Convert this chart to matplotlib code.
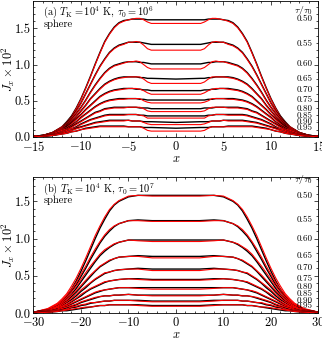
"""Two panels: J_x profiles at several tau/tau0 inside a sphere (black: analytic, red: MC)."""
import numpy as np
import matplotlib
matplotlib.use("Agg")
import matplotlib.pyplot as plt
from matplotlib.ticker import FormatStrFormatter

plt.rcParams.update({
    "font.family": "serif",
    "font.serif": ["cmr10"],
    "mathtext.fontset": "cm",
    "axes.formatter.use_mathtext": True,
    "font.size": 9,
    "xtick.direction": "in", "ytick.direction": "in",
    "xtick.top": True, "ytick.right": True,
    "xtick.minor.visible": True, "ytick.minor.visible": True,
    "xtick.major.size": 3.0, "ytick.major.size": 3.0,
    "xtick.minor.size": 1.5, "ytick.minor.size": 1.5,
    "xtick.major.width": 0.5, "ytick.major.width": 0.5,
    "xtick.minor.width": 0.5, "ytick.minor.width": 0.5,
    "axes.linewidth": 0.6,
})

# tau/tau0 of each curve (top to bottom)
ratios = ["0.50", "0.55", "0.60", "0.65", "0.70", "0.75", "0.80", "0.85", "0.90", "0.95"]

# label heights on the right (J_x x 10^2)
label_y_a = [1.628, 1.29, 1.005, 0.798, 0.646, 0.508, 0.393, 0.29, 0.203, 0.13]
label_y_b = [1.575, 1.247, 0.997, 0.766, 0.61, 0.463, 0.356, 0.254, 0.165, 0.093]

# panel (a), tau0 = 1e6: half profiles (x >= 0), values are J_x x 10^4
x_a = [0, 2.6, 3.0, 3.4, 3.8, 4.2, 4.6, 5, 5.5, 6, 6.5, 7, 7.5, 8, 8.5, 9, 9.5, 10, 10.5, 11, 11.5, 12, 13, 14, 15]
black_a = [
    [162, 162, 162, 163, 163, 163, 163, 162, 161, 158, 152, 143, 132, 117, 101, 84, 68, 53, 40, 29, 21, 14, 6, 2, 1],
    [128, 128, 129, 130, 131, 131, 131, 131, 129, 127, 123, 117, 108, 98, 86, 73, 60, 47, 36, 27, 19, 13, 6, 2, 1],
    [101, 101, 102, 103, 103, 104, 104, 104, 103, 101, 99, 95, 89, 81, 72, 62, 51, 41, 32, 24, 17, 12, 5, 2, 1],
    [80, 81, 81, 82, 82, 83, 83, 83, 83, 82, 80, 77, 73, 67, 60, 53, 44, 36, 28, 21, 15, 11, 5, 2, 1],
    [64, 64, 65, 65, 66, 66, 67, 67, 67, 66, 65, 63, 60, 56, 50, 44, 38, 31, 25, 19, 14, 10, 4, 2, 1],
    [51, 51, 51, 52, 52, 53, 53, 53, 53, 53, 52, 51, 49, 46, 42, 37, 32, 27, 21, 16, 12, 9, 4, 1, 0],
    [39, 39, 40, 40, 40, 41, 41, 41, 41, 41, 41, 40, 39, 36, 34, 30, 26, 22, 18, 14, 10, 7, 3, 1, 0],
    [29, 29, 29, 30, 30, 31, 31, 31, 31, 31, 31, 31, 30, 28, 26, 24, 21, 18, 14, 11, 9, 6, 3, 1, 0],
    [20, 21, 21, 21, 22, 22, 22, 23, 23, 23, 23, 23, 22, 21, 20, 18, 16, 14, 12, 9, 7, 5, 2, 1, 0],
    [12, 13, 13, 13, 14, 14, 14, 14, 15, 15, 15, 15, 15, 15, 14, 13, 12, 10, 8, 7, 5, 4, 2, 1, 0],
]
red_a = [
    [157, 157, 159, 162, 164, 164, 163, 162, 160, 157, 151, 142, 131, 116, 100, 83, 67, 52, 39, 28, 20, 14, 6, 2, 1],
    [120, 120, 122, 127, 131, 132, 131, 131, 128, 126, 122, 116, 107, 97, 85, 72, 59, 46, 35, 26, 18, 13, 6, 2, 1],
    [94, 94, 96, 100, 104, 105, 104, 104, 102, 100, 98, 94, 88, 80, 71, 61, 50, 40, 31, 23, 16, 12, 5, 2, 1],
    [74, 74, 76, 80, 83, 83, 83, 83, 82, 81, 79, 76, 72, 66, 59, 52, 43, 35, 27, 20, 14, 11, 5, 2, 1],
    [59, 59, 61, 64, 66, 67, 67, 67, 66, 65, 64, 62, 59, 55, 49, 43, 37, 30, 24, 18, 13, 10, 4, 2, 1],
    [47, 47, 48, 50, 53, 53, 53, 53, 52, 52, 51, 50, 48, 45, 41, 36, 31, 26, 20, 15, 11, 9, 4, 1, 0],
    [35, 35, 36, 39, 41, 41, 41, 41, 40, 40, 40, 39, 38, 35, 33, 29, 25, 21, 17, 13, 10, 7, 3, 1, 0],
    [26, 26, 26, 29, 30, 31, 31, 31, 30, 30, 30, 30, 29, 27, 25, 23, 20, 17, 13, 11, 9, 6, 3, 1, 0],
    [17, 17, 18, 20, 22, 22, 22, 23, 22, 22, 22, 22, 21, 20, 19, 17, 15, 13, 11, 9, 7, 5, 2, 1, 0],
    [8, 8, 9, 12, 14, 14, 14, 14, 14, 14, 14, 14, 14, 14, 13, 12, 11, 10, 8, 7, 5, 4, 2, 1, 0],
]

# panel (b), tau0 = 1e7
x_b = [0, 5, 8, 10, 12, 13, 14, 15, 16, 17, 18, 19, 20, 21, 22, 23, 24, 25, 27, 30]
black_b = [
    [158, 158, 158, 156, 150, 145, 137, 126, 114, 100, 85, 70, 56, 43, 32, 23, 16, 11, 5, 1],
    [124, 124, 125, 124, 120, 116, 110, 103, 94, 83, 72, 60, 49, 38, 29, 21, 15, 10, 4, 1],
    [98, 98, 98, 98, 95, 92, 88, 83, 77, 69, 60, 51, 42, 33, 25, 19, 13, 9, 4, 1],
    [76, 76, 77, 76, 75, 73, 70, 66, 62, 56, 49, 42, 35, 28, 22, 16, 12, 8, 4, 1],
    [59, 59, 60, 59, 58, 57, 55, 53, 49, 45, 40, 34, 29, 23, 18, 14, 10, 7, 3, 1],
    [45, 45, 46, 46, 45, 44, 43, 41, 38, 35, 32, 28, 23, 19, 15, 11, 8, 6, 3, 1],
    [34, 34, 34, 34, 34, 33, 32, 31, 29, 27, 24, 21, 18, 15, 12, 9, 7, 5, 2, 0],
    [24, 24, 24, 25, 24, 24, 23, 23, 22, 20, 18, 16, 14, 11, 9, 7, 5, 4, 2, 0],
    [16, 16, 17, 17, 17, 17, 16, 16, 15, 14, 13, 11, 10, 8, 7, 5, 4, 3, 1, 0],
    [10, 10, 11, 11, 11, 11, 11, 10, 10, 9, 8, 7, 6, 5, 4, 3, 3, 2, 1, 0],
]
red_b = [
    [157, 157, 158, 157, 151, 146, 139, 129, 117, 104, 89, 74, 60, 47, 36, 26, 19, 13, 6, 1],
    [123, 123, 124, 124, 120, 117, 112, 105, 96, 86, 75, 63, 52, 41, 32, 24, 17, 12, 5, 1],
    [96, 96, 97, 98, 95, 93, 89, 85, 79, 71, 63, 54, 45, 36, 28, 21, 15, 11, 5, 1],
    [74, 74, 76, 76, 75, 73, 71, 67, 63, 57, 51, 44, 37, 30, 24, 18, 13, 9, 4, 1],
    [57, 57, 59, 59, 58, 57, 55, 54, 50, 46, 41, 36, 31, 25, 20, 15, 11, 8, 3, 1],
    [44, 44, 45, 46, 45, 44, 43, 42, 39, 36, 33, 29, 25, 20, 16, 12, 9, 7, 3, 1],
    [32, 32, 33, 34, 34, 33, 32, 31, 30, 28, 25, 22, 19, 16, 13, 10, 8, 5, 2, 0],
    [23, 23, 24, 25, 24, 24, 23, 23, 22, 21, 19, 17, 15, 12, 10, 8, 6, 4, 2, 0],
    [15, 15, 16, 17, 17, 17, 16, 16, 15, 14, 14, 12, 11, 9, 8, 5, 4, 3, 1, 0],
    [9, 9, 10, 11, 11, 11, 11, 10, 10, 9, 8, 8, 7, 6, 5, 4, 3, 2, 1, 0],
]


def mirrored(x_half, y_half):
    """profiles are symmetric in x: build the full curve from the x >= 0 half."""
    x_half = np.asarray(x_half, dtype=float)
    y_half = np.asarray(y_half, dtype=float) / 100.0  # -> J_x x 10^2
    return (np.concatenate([-x_half[::-1], x_half[1:]]),
            np.concatenate([y_half[::-1], y_half[1:]]))


def draw_panel(ax, x_half, black, red, label_y, xmax, ymax, tag, tau0_exp, head_y):
    for yb, yr in zip(black, red):
        ax.plot(*mirrored(x_half, yb), color="black", lw=1.0)
        ax.plot(*mirrored(x_half, yr), color="red", lw=0.8)
    x_lab = xmax * 0.96
    for text, y in zip(ratios, label_y):
        ax.text(x_lab, y, text, ha="right", va="center", fontsize=6.5)
    ax.text(x_lab, head_y, r"$\tau/\tau_0$", ha="right", va="center", fontsize=7)

    ax.set_xlim(-xmax, xmax)
    ax.set_ylim(0, ymax)
    step = xmax / 3
    ax.set_xticks(np.arange(-xmax, xmax + 0.1, step))
    ax.set_xticks(np.arange(-xmax, xmax + 0.1, step / 5), minor=True)
    ax.set_yticks([0.0, 0.5, 1.0, 1.5])
    ax.set_yticks(np.arange(0, ymax, 0.1), minor=True)
    ax.yaxis.set_major_formatter(FormatStrFormatter("%.1f"))
    ax.set_ylabel(r"$J_x \times 10^2$")
    ax.set_xlabel(r"$x$")
    ax.yaxis.set_label_coords(-0.058, 0.5)
    ax.xaxis.set_label_coords(0.5, -0.115)
    ax.tick_params(pad=2)

    ax.text(0.034, 0.915, rf"({tag}) $T_{{\rm K}}=10^4$ K, $\tau_0=10^{tau0_exp}$",
            transform=ax.transAxes, fontsize=7.5, va="center")
    ax.text(0.034, 0.83, "sphere", transform=ax.transAxes, fontsize=7.5, va="center")


fig = plt.figure(figsize=(3.22, 3.38), dpi=100)
ax_a = fig.add_axes([0.104, 0.595, 0.885, 0.402])
ax_b = fig.add_axes([0.104, 0.074, 0.885, 0.402])

draw_panel(ax_a, x_a, black_a, red_a, label_y_a, 15, 1.88, "a", 6, 1.743)
draw_panel(ax_b, x_b, black_b, red_b, label_y_b, 30, 1.825, "b", 7, 1.79)

fig.savefig("out.png", dpi=100)
